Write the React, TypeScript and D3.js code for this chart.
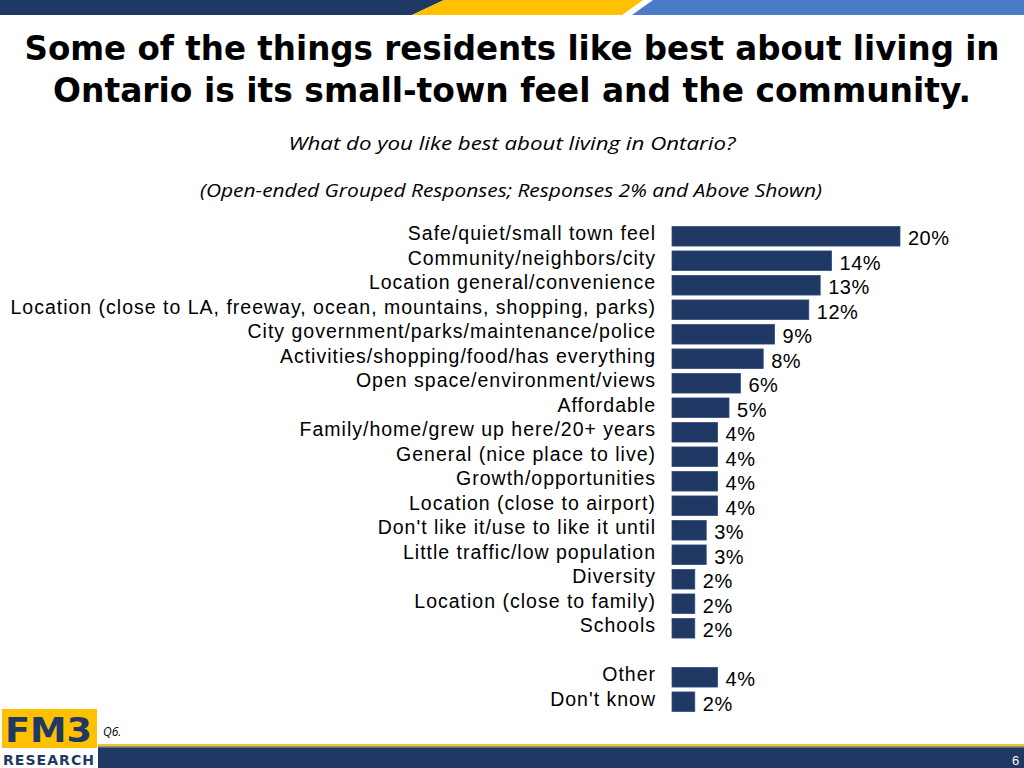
import React from "react";
import * as d3 from "d3";

const categories = [
  "Safe/quiet/small town feel",
  "Community/neighbors/city",
  "Location general/convenience",
  "Location (close to LA, freeway, ocean, mountains, shopping, parks)",
  "City government/parks/maintenance/police",
  "Activities/shopping/food/has everything",
  "Open space/environment/views",
  "Affordable",
  "Family/home/grew up here/20+ years",
  "General (nice place to live)",
  "Growth/opportunities",
  "Location (close to airport)",
  "Don't like it/use to like it until",
  "Little traffic/low population",
  "Diversity",
  "Location (close to family)",
  "Schools",
  "",
  "Other",
  "Don't know",
];
const values = [20, 14, 13, 12, 9, 8, 6, 5, 4, 4, 4, 4, 3, 3, 2, 2, 2, null, 4, 2];

const titleLines = [
  "Some of the things residents like best about living in",
  "Ontario is its small-town feel and the community.",
];
const subtitle = "What do you like best about living in Ontario?";
const note = "(Open-ended Grouped Responses; Responses 2% and Above Shown)";

const W = 1024;
const H = 768;
const NAVY = "#1F3864";
const YELLOW = "#FFC000";
const BLUE = "#4A7CC8";
const LABEL_FONT = "'Liberation Sans', Arial, sans-serif";
const SUB_FONT = "'Open Sans', 'Liberation Sans', Arial, sans-serif";

const App: React.FC = () => {
  const x = d3.scaleLinear().domain([0, 20]).range([672, 900]);
  const y = d3
    .scaleBand<number>()
    .domain(d3.range(categories.length))
    .range([224, 224 + categories.length * 24.5])
    .paddingInner(0.2)
    .paddingOuter(0.1);

  return (
    <svg
      width={W}
      height={H}
      style={{ position: "absolute", left: 0, top: 0, display: "block" }}
    >
      <rect width={W} height={H} fill="#fff" />

      {/* top banner */}
      <polygon points="0,0 444,0 412,15 0,15" fill={NAVY} />
      <polygon points="444,0 643,0 622,15 412,15" fill={YELLOW} />
      <polygon points="653,0 1024,0 1024,15 632,15" fill={BLUE} />

      {/* title */}
      {titleLines.map((t, i) => (
        <text
          key={i}
          x={512}
          y={60 + i * 42}
          textAnchor="middle"
          fontFamily="'DejaVu Sans', Verdana, sans-serif"
          fontWeight="bold"
          fontSize={33}
          textLength={i === 0 ? 975 : 918}
          lengthAdjust="spacingAndGlyphs"
          fill="#000"
        >
          {t}
        </text>
      ))}
      <text
        x={512}
        y={150}
        textAnchor="middle"
        fontFamily={SUB_FONT}
        fontStyle="italic"
        fontSize={18}
        textLength={447}
        lengthAdjust="spacingAndGlyphs"
      >
        {subtitle}
      </text>
      <text
        x={511}
        y={197}
        textAnchor="middle"
        fontFamily={SUB_FONT}
        fontStyle="italic"
        fontSize={18}
        textLength={622}
        lengthAdjust="spacingAndGlyphs"
      >
        {note}
      </text>

      {/* bars */}
      {categories.map((c, i) => {
        const v = values[i];
        const yc = (y(i) ?? 0) + y.bandwidth() / 2;
        return (
          <g key={i}>
            {c && (
              <text
                x={656}
                y={yc + 4}
                textAnchor="end"
                fontFamily={LABEL_FONT}
                fontSize={19.5}
                letterSpacing={1}
                fill="#000"
              >
                {c}
              </text>
            )}
            {v != null && (
              <>
                <rect
                  x={x(0)}
                  y={y(i)}
                  width={x(v) - x(0)}
                  height={y.bandwidth()}
                  fill={NAVY}
                  stroke="#2E4A7A"
                  strokeWidth={0.75}
                />
                <text
                  x={x(v) + 8}
                  y={yc + 9}
                  fontFamily={LABEL_FONT}
                  fontSize={20}
                  letterSpacing={0.5}
                  fill="#000"
                >
                  {v}%
                </text>
              </>
            )}
          </g>
        );
      })}

      {/* footer */}
      <rect x={98} y={744} width={W - 98} height={2.5} fill="#F2C62A" />
      <rect x={98} y={746.5} width={W - 98} height={1} fill="#444" />
      <rect x={98} y={747.5} width={W - 98} height={H - 747.5} fill={NAVY} />
      <text x={1012} y={765} fontFamily={LABEL_FONT} fontSize={13} fill="#fff">
        6
      </text>
      <text
        x={103}
        y={736}
        fontFamily={SUB_FONT}
        fontStyle="italic"
        fontSize={12}
        fill="#000"
      >
        Q6.
      </text>

      {/* logo */}
      <rect x={2} y={709} width={95} height={39} fill={YELLOW} />
      <text
        x={5}
        y={742}
        fontFamily="'DejaVu Sans', Verdana, sans-serif"
        fontWeight="bold"
        fontSize={34}
        fill={NAVY}
        textLength={87}
        lengthAdjust="spacingAndGlyphs"
      >
        FM3
      </text>
      <text
        x={3}
        y={765}
        fontFamily="'DejaVu Sans', Verdana, sans-serif"
        fontWeight="bold"
        fontSize={14}
        fill={NAVY}
        textLength={91}
        lengthAdjust="spacing"
      >
        RESEARCH
      </text>
    </svg>
  );
};

export default App;
